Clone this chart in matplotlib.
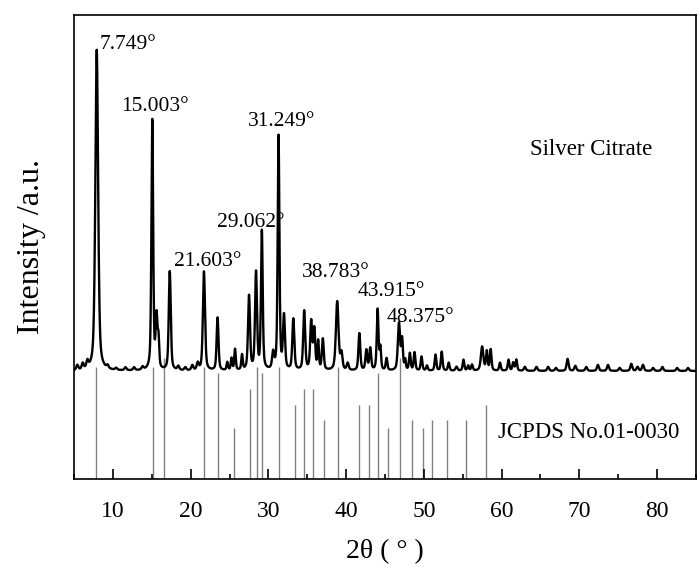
import numpy as np
import matplotlib
matplotlib.use('Agg')
import matplotlib.pyplot as plt
from matplotlib.ticker import MultipleLocator

plt.rcParams['font.family'] = ['Liberation Serif', 'DejaVu Serif']

# Patrón medido: posición (2θ), altura del pico (cima, u.a.), anchura FWHM
picos_pos = [5.4, 6.1, 6.7, 7.9, 9.3, 10.4, 11.6, 12.7, 13.8, 15.05,
             15.6, 15.85, 17.3, 18.4, 19.3, 20.2, 20.9, 21.7, 23.45, 24.7,
             25.25, 25.7, 26.6, 27.5, 28.4, 29.15, 30.6, 31.3, 32.0, 33.2,
             34.6, 35.5, 35.9, 36.4, 37.0, 38.85, 39.4, 40.2, 41.7, 42.6,
             43.1, 44.05, 44.4, 45.2, 46.8, 47.2, 47.6, 48.2, 48.8, 49.7,
             50.4, 51.5, 52.3, 53.2, 54.2, 55.1, 55.7, 56.2, 57.5, 58.1,
             58.6, 59.8, 60.9, 61.5, 61.9, 63.0, 64.5, 66.0, 67.0, 68.5,
             69.5, 70.9, 72.4, 73.7, 75.2, 76.7, 77.5, 78.2, 79.5, 80.7,
             82.6, 84.0]
picos_cima = [113, 114, 115, 429, 111, 110, 111, 111, 111, 359,
              159, 135, 207, 112, 111, 113, 115, 207, 161, 116,
              120, 129, 123, 182, 205, 247, 124, 342, 161, 159,
              167, 156, 148, 136, 139, 177, 124, 115, 145, 128,
              130, 169, 130, 120, 155, 138, 118, 125, 126, 122,
              113, 124, 127, 116, 112, 119, 113, 114, 132, 127,
              129, 116, 119, 116, 119, 112, 112, 112, 111, 120,
              113, 112, 114, 114, 111, 115, 112, 114, 111, 112,
              111, 111]
picos_fwhm = [0.3, 0.3, 0.3, 0.42, 0.3, 0.3, 0.3, 0.3, 0.3, 0.26,
              0.28, 0.22, 0.3, 0.3, 0.3, 0.3, 0.3, 0.32, 0.28, 0.22,
              0.22, 0.22, 0.22, 0.3, 0.3, 0.26, 0.3, 0.26, 0.3, 0.3,
              0.3, 0.3, 0.28, 0.22, 0.28, 0.4, 0.3, 0.3, 0.28, 0.28,
              0.28, 0.26, 0.22, 0.25, 0.34, 0.25, 0.2, 0.25, 0.25, 0.25,
              0.25, 0.25, 0.25, 0.25, 0.3, 0.25, 0.25, 0.25, 0.38, 0.25,
              0.25, 0.25, 0.25, 0.25, 0.25, 0.3, 0.3, 0.3, 0.3, 0.3,
              0.3, 0.3, 0.3, 0.3, 0.3, 0.3, 0.3, 0.3, 0.3, 0.3,
              0.3, 0.3]
fondo = 108

# Patrón de referencia JCPDS No.01-0030
ref_pos = [7.87, 15.1, 16.6, 21.7, 23.5, 25.6, 27.6, 28.5, 29.2, 31.4,
           33.4, 34.6, 35.7, 37.2, 38.9, 41.7, 42.9, 44.06, 45.4, 46.9,
           48.5, 49.9, 51.1, 53.0, 55.4, 58.0]
ref_alt = [112, 112, 121, 112, 106, 51, 90, 112, 106, 112,
           74, 90, 90, 59, 112, 74, 74, 106, 51, 121,
           59, 51, 59, 59, 59, 74]

# Etiquetas de picos: texto, posición del texto
etiquetas = ['7.749°', '15.003°', '31.249°', '29.062°', '21.603°',
             '38.783°', '43.915°', '48.375°']
etiq_x = [8.3, 11.1, 27.4, 23.4, 17.9, 34.3, 41.5, 45.2]
etiq_y = [434, 372, 357, 256, 217, 206, 187, 161]


def patron(x):
    y = np.full_like(x, fondo, dtype=float)
    eta = 0.5
    for p, c, w in zip(picos_pos, picos_cima, picos_fwhm):
        a = c - fondo
        d = (x - p) / (w / 2)
        gau = np.exp(-np.log(2) * d ** 2)
        lor = 1 / (1 + d ** 2)
        y += a * (eta * lor + (1 - eta) * gau)
    return y


x = np.linspace(5, 85, 4001)
y = patron(x)

fig = plt.figure(figsize=(7, 5.72), dpi=100)
ax = fig.add_axes([0.106, 0.1626, 0.888, 0.8112])

ax.vlines(ref_pos, 0, ref_alt, colors='0.5', linewidth=1.0, zorder=1)
ax.plot(x, y, color='black', linewidth=1.7, zorder=2)

for t, tx, ty in zip(etiquetas, etiq_x, etiq_y):
    ax.text(tx, ty, t, fontsize=15.5, va='center', ha='left', zorder=3)

ax.text(63.7, 329, 'Silver Citrate', fontsize=16.5, va='center', ha='left')
ax.text(59.6, 46, 'JCPDS No.01-0030', fontsize=16.5, va='center', ha='left')

ax.set_xlim(5, 85)
ax.set_ylim(0, 464)
ax.xaxis.set_major_locator(MultipleLocator(10))
ax.xaxis.set_minor_locator(MultipleLocator(5))
ax.tick_params(axis='x', which='major', direction='in', length=7, width=1.2,
               labelsize=17, pad=16)
ax.tick_params(axis='x', which='minor', direction='in', length=3.5, width=1.2)
ax.set_yticks([])
for s in ax.spines.values():
    s.set_linewidth(1.2)

ax.set_xlabel('2θ ( ° )', fontsize=20, labelpad=12)
ax.set_ylabel('Intensity /a.u.', fontsize=23, labelpad=20)

fig.savefig('out.png', dpi=100)
